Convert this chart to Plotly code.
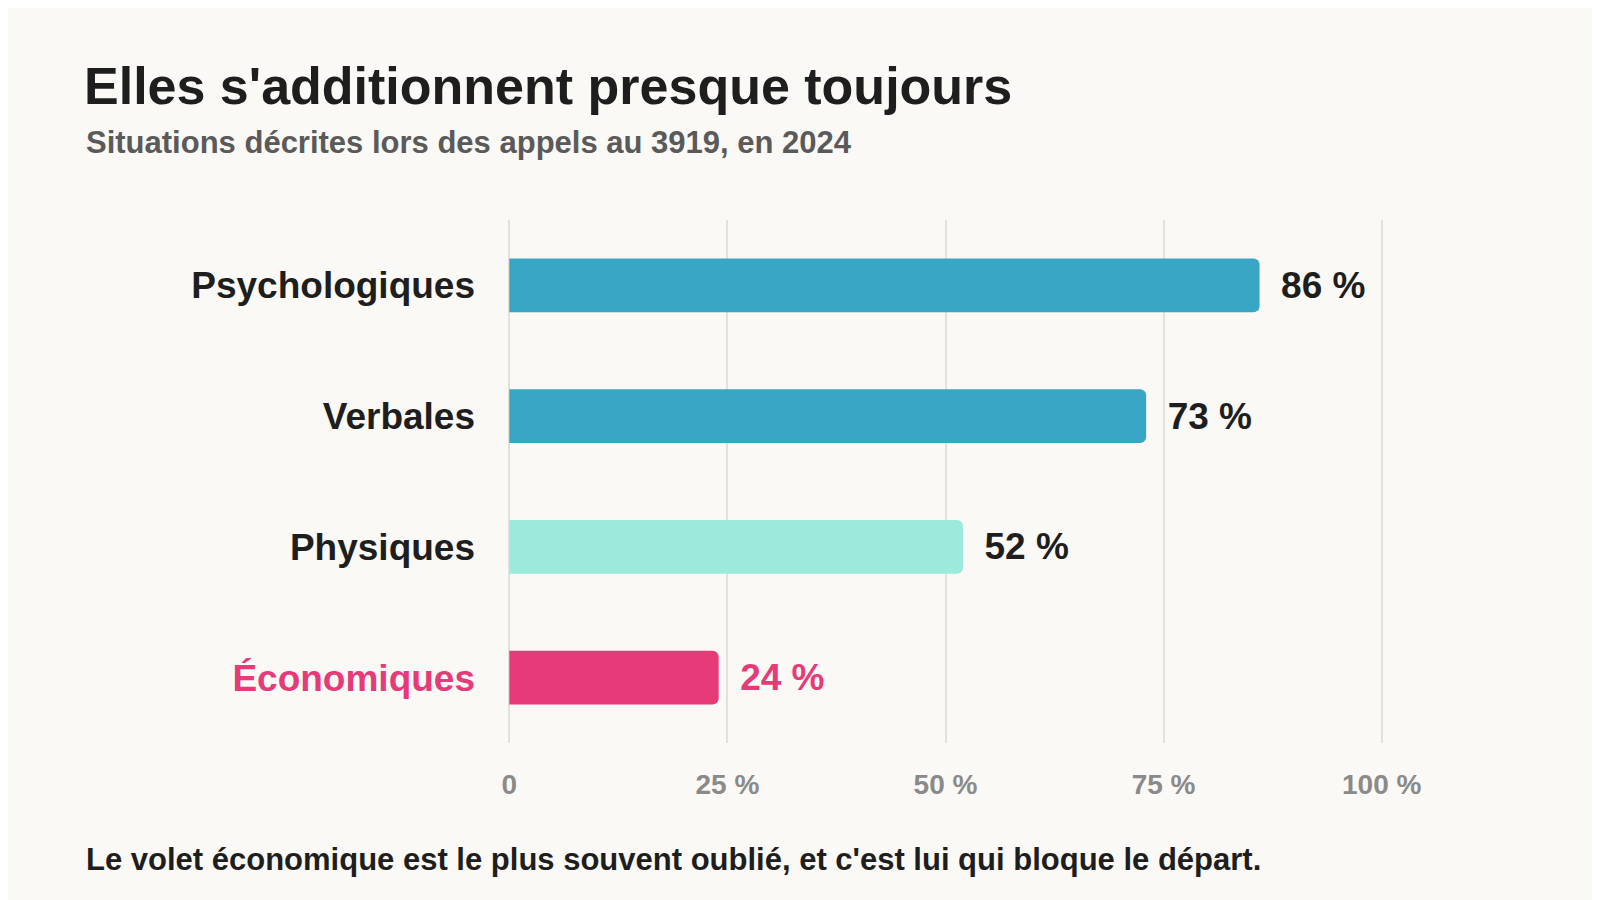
import plotly.graph_objects as go

categories = ["Psychologiques", "Verbales", "Physiques", "Économiques"]
values = [86, 73, 52, 24]
colors = ["#38a6c4", "#38a6c4", "#9beadc", "#e63b78"]
label_colors = ["#1e1e1e", "#1e1e1e", "#1e1e1e", "#e63b78"]
tick_vals = [0, 25, 50, 75, 100]
tick_text = ["0", "25 %", "50 %", "75 %", "100 %"]

cat_text = [f"<b><span style='color:{c}'>{n}</span></b>" for n, c in zip(categories, label_colors)]

fig = go.Figure(go.Bar(
    x=values, y=categories, orientation="h",
    marker=dict(color=colors, cornerradius=6, line=dict(width=0)),
    text=[f"\u2002<b>{v} %</b>" for v in values], textposition="outside",
    texttemplate="%{text}",
    textfont=dict(size=37, color=label_colors, family="Liberation Sans"),
    cliponaxis=False, hoverinfo="skip",
))
pw = 1600 - 500 - 225
ph = 900 - 212 - 165
fig.update_layout(
    width=1600, height=900,
    paper_bgcolor="#faf9f5", plot_bgcolor="#faf9f5",
    font=dict(family="Liberation Sans", color="#1e1e1e"),
    margin=dict(l=500, r=225, t=212, b=165),
    bargap=0.59, showlegend=False,
    title=dict(text="<b>Elles s'additionnent presque toujours</b>", x=76/1600, xanchor="left",
               y=1-78/900, yanchor="middle", font=dict(size=52, color="#1e1e1e")),
    annotations=[
        dict(text="<b>Situations décrites lors des appels au 3919, en 2024</b>", xref="paper", yref="paper",
             x=(76 - 500) / pw, y=(900 - 165 - 134) / ph, showarrow=False,
             font=dict(size=31, color="#5a5a5a"), xanchor="left", yanchor="middle"),
        dict(text="<b>Le volet économique est le plus souvent oublié, et c'est lui qui bloque le départ.</b>",
             xref="paper", yref="paper", x=(76 - 500) / pw, y=(900 - 165 - 851) / ph, showarrow=False,
             font=dict(size=31, color="#1e1e1e"), xanchor="left", yanchor="middle"),
    ],
)
fig.update_xaxes(range=[-0.15, 100.15], tickvals=tick_vals, ticktext=[f"<b>{t}</b>" for t in tick_text],
                 showgrid=True, gridcolor="#e3e1da", gridwidth=2, zeroline=False,
                 showline=False, tickfont=dict(size=28, color="#8a8a8a", family="Liberation Sans"),
                 ticklabelstandoff=22, fixedrange=True)
fig.update_yaxes(categoryorder="array", categoryarray=categories[::-1],
                 tickvals=categories, ticktext=cat_text,
                 showgrid=False, showline=False, zeroline=False,
                 tickfont=dict(size=37, family="Liberation Sans"), ticklabelstandoff=32)
fig.write_html("out.html")
